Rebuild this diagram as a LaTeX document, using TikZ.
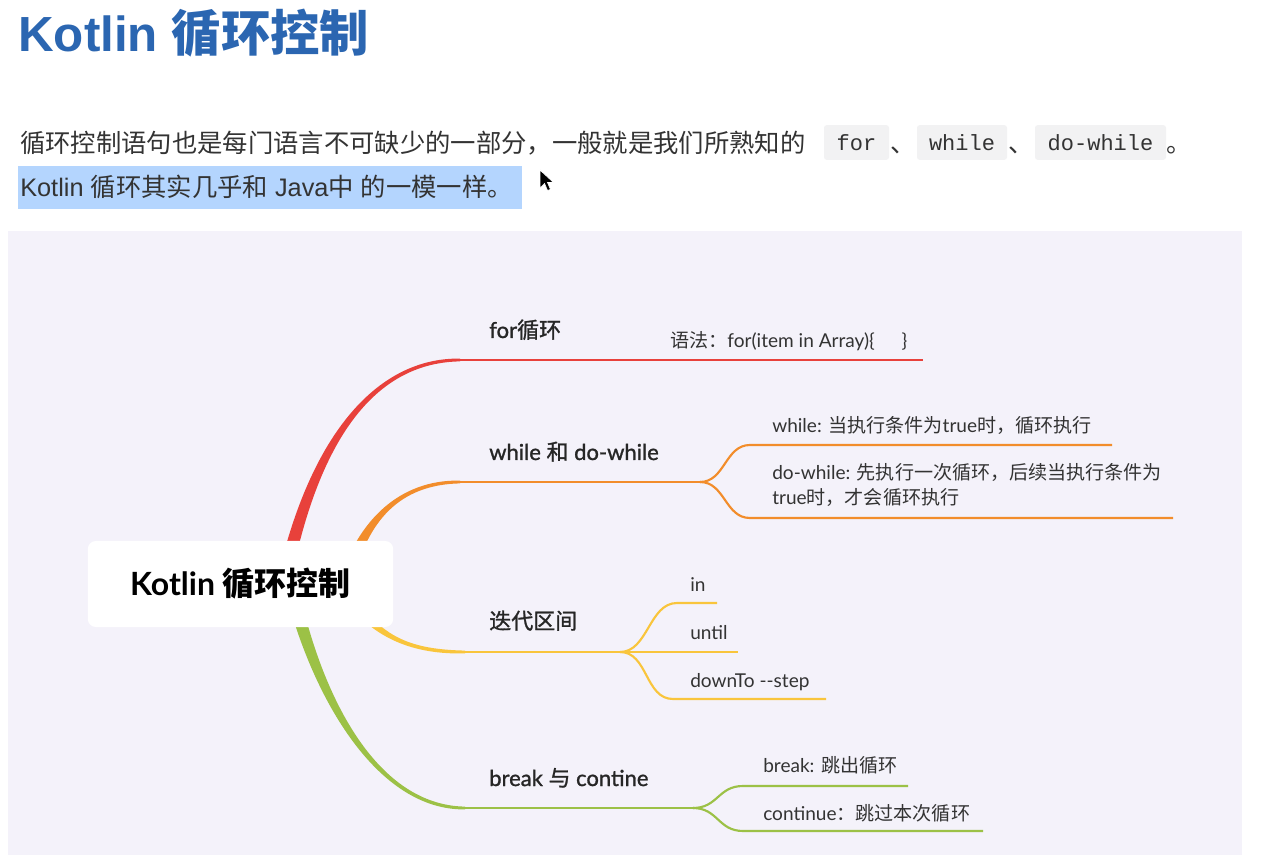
\documentclass[tikz,border=0pt]{standalone}
\usepackage{fontspec}
\setmainfont{Liberation Sans}
\newfontfamily\cjk{Noto Sans CJK SC}
\newfontfamily\cjkmid{Noto Sans CJK SC}[FakeBold=1.2]
\newfontfamily\lato{Lato}
\newfontfamily\latomid{Lato}[FakeBold=1.2]
\newfontfamily\codefont{Liberation Mono}
\newcommand{\zh}[1]{{\cjk #1}}
\newcommand{\zhm}[1]{{\cjkmid #1}}
\usetikzlibrary{calc}
\definecolor{kblue}{HTML}{2B66B1}
\definecolor{kpanel}{HTML}{F4F2FA}
\definecolor{kchip}{HTML}{F2F2F3}
\definecolor{kmark}{HTML}{B4D5FE}
\definecolor{ktext}{HTML}{333333}
\definecolor{cred}{HTML}{E8413B}
\definecolor{corange}{HTML}{F28D2B}
\definecolor{cyellow}{HTML}{F9C53C}
\definecolor{cgreen}{HTML}{9CC146}
\tikzset{
  title/.style={font=\fontsize{37}{44}\selectfont\bfseries, text=kblue, anchor=base west, inner sep=0pt},
  para/.style={font=\fontsize{19}{23}\selectfont, text=ktext, anchor=base west, inner sep=0pt},
  chip/.style={fill=kchip, rounded corners=2pt, font=\codefont\fontsize{16.5}{20}\selectfont, text=ktext, minimum width=#1, minimum height=26pt, inner sep=0pt},
  rootbox/.style={fill=white, rounded corners=6pt, minimum width=229pt, minimum height=64.5pt, font=\lato\bfseries\fontsize{24}{28}\selectfont, text=black},
  topic/.style={font=\latomid\fontsize{16.5}{20}\selectfont, text=black!85, anchor=base west, inner sep=0pt},
  leaf/.style={font=\lato\fontsize{14.3}{18.75}\selectfont, text=black!80, anchor=base west, inner sep=0pt, align=left},
  stem/.style={draw=#1, line width=2.1pt},
  twig/.style={draw=#1, line width=1.6pt},
}
% tapered limb: colour, sign (1 up, -1 down), root end, control 1, control 2, branch start
\newcommand{\limb}[6]{%
  \fill[#1] ($(#3)+(-7,0)$) .. controls ($(#4)+(-5,0)$) and ($(#5)+(0,{-2.6*(#2)})$) .. ($(#6)+(0,{-1.4*(#2)})$)
    -- ($(#6)+(0,{1.4*(#2)})$) .. controls ($(#5)+(0,{2.6*(#2)})$) and ($(#4)+(5,0)$) .. ($(#3)+(7,0)$) -- cycle;}

\begin{document}
\begin{tikzpicture}[x=0.75pt, y=-0.75pt]
  \useasboundingbox (0,0) rectangle (1261,855);
  \fill[white] (0,0) rectangle (1261,855);
  \fill[kpanel] (8,231) rectangle (1242,855);

  % heading and text
  \node[title] (head) at (18,52) {Kotlin \zh{循环控制}};
  \node[para] (p1) at (20,153) {\zh{循环控制语句也是每门语言不可缺少的一部分，一般就是我们所熟知的}};
  \node[chip=48.75pt] (kfor) at (856.5,142.5) {for};
  \node[chip=67.5pt] (kwhile) at (962,142.5) {while};
  \node[chip=98.25pt] (kdo) at (1100.5,142.5) {do-while};
  \node[para] (s1) at (890,153) {\zh{、}};
  \node[para] (s2) at (1008,153) {\zh{、}};
  \node[para] (s3) at (1166,153) {\zh{。}};
  \fill[kmark] (18,166) rectangle (522,209);
  \node[para] (p2) at (20,197) {Kotlin \zh{循环其实几乎和} Java\zh{中} \zh{的一模一样。}};
  \filldraw[fill=black, draw=white, line width=0.5pt] (540,170) -- (540,188) -- (544.5,183.5) -- (547.5,190.5)
    -- (550.5,189.5) -- (547.5,182.5) -- (553.5,182.5) -- cycle;

  % mind map
  \coordinate (r1) at (283,585);   \coordinate (r2) at (345,585);
  \coordinate (r3) at (345,590);   \coordinate (r4) at (292,590);
  \coordinate (forA) at (460,360); \coordinate (forB) at (923,360);
  \coordinate (whA) at (460,482);  \coordinate (whS) at (700,482);
  \coordinate (wh1) at (750,445);  \coordinate (wh1e) at (1112,445);
  \coordinate (wh2) at (750,518);  \coordinate (wh2e) at (1173,518);
  \coordinate (itA) at (465,652);  \coordinate (itS) at (620,652);
  \coordinate (it1) at (677,603);  \coordinate (it1e) at (717,603);
  \coordinate (it2e) at (738,652);
  \coordinate (it3) at (673,699);  \coordinate (it3e) at (826,699);
  \coordinate (brA) at (465,808);  \coordinate (brS) at (693,808);
  \coordinate (br1) at (743,786);  \coordinate (br1e) at (908,786);
  \coordinate (br2) at (743,831);  \coordinate (br2e) at (983,831);

  \limb{cred}{1}{r1}{315,430}{380,360}{forA}
  \limb{corange}{1}{r2}{362,520}{400,482}{whA}
  \limb{cyellow}{-1}{r3}{375,640}{415,652}{itA}
  \limb{cgreen}{-1}{r4}{318,700}{378,808}{brA}

  \draw[stem=cred] (forA) -- (forB);
  \draw[stem=corange] (whA) -- (whS);
  \draw[twig=corange] (whS) .. controls +(25,0) and +(-25,0) .. (wh1) -- (wh1e);
  \draw[twig=corange] (whS) .. controls +(25,0) and +(-25,0) .. (wh2) -- (wh2e);
  \draw[stem=cyellow] (itA) -- (itS);
  \draw[twig=cyellow] (itS) .. controls +(28,0) and +(-28,0) .. (it1) -- (it1e);
  \draw[twig=cyellow] (itS) -- (it2e);
  \draw[twig=cyellow] (itS) .. controls +(28,0) and +(-28,0) .. (it3) -- (it3e);
  \draw[stem=cgreen] (brA) -- (brS);
  \draw[twig=cgreen] (brS) .. controls +(25,0) and +(-25,0) .. (br1) -- (br1e);
  \draw[twig=cgreen] (brS) .. controls +(25,0) and +(-25,0) .. (br2) -- (br2e);

  \node[rootbox] (root) at (240.5,584) {Kotlin \zh{循环控制}};

  \node[topic] (tfor) at (489,338) {for\zhm{循环}};
  \node[leaf] (lfor) at (670,348) {\zh{语法：}for(item in Array)\{\hspace{20pt}\}};
  \node[topic] (twh) at (489,460) {while \zhm{和} do-while};
  \node[leaf] (lwh1) at (772,433) {while: \zh{当执行条件为}true\zh{时，循环执行}};
  \node[leaf] (lwh2) at (772,505) {do-while: \zh{先执行一次循环，后续当执行条件为}\\true\zh{时，才会循环执行}};
  \node[topic] (tit) at (489,629) {\zhm{迭代区间}};
  \node[leaf] (lit1) at (690,591) {in};
  \node[leaf] (lit2) at (690,639) {until};
  \node[leaf] (lit3) at (690,687) {downTo --step};
  \node[topic] (tbr) at (489,786) {break \zhm{与} contine};
  \node[leaf] (lbr1) at (763,772) {break: \zh{跳出循环}};
  \node[leaf] (lbr2) at (763,820) {continue\zh{：跳过本次循环}};
\end{tikzpicture}
\end{document}
